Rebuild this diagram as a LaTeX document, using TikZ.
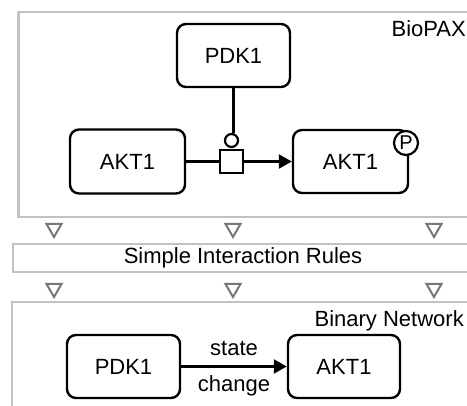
\documentclass[tikz,border=0pt]{standalone}
\usepackage{fontspec}
\setmainfont{Liberation Sans}
\usetikzlibrary{arrows.meta}
\definecolor{panelgray}{HTML}{C2C2C2}
\definecolor{trigray}{HTML}{777777}
\begin{document}
\begin{tikzpicture}[x=1pt,y=-1pt,
  every node/.style={font=\fontsize{22}{26}\selectfont},
  panel/.style={draw=panelgray,line width=2.6pt},
  entity/.style={draw=black,line width=2.4pt,rounded corners=9pt,inner sep=0pt},
  conn/.style={draw=black,line width=2.4pt},
  tip/.style={-{Triangle[length=13pt,width=14pt]}},
  flowtri/.style={draw=trigray,line width=2pt,line join=miter}
]
\useasboundingbox (0,0) rectangle (467,406);
\clip (0,0) rectangle (467,406);
\fill[white] (0,0) rectangle (467,406);

% panels
\draw[panel] (480,12) -- (18.5,12) -- (18.5,217) -- (480,217);
\draw[panel] (480,244) -- (13,244) -- (13,272) -- (480,272);
\draw[panel] (480,302) -- (12,302) -- (12,420);

\node[anchor=base east,inner sep=0pt] (lblbiopax) at (466,37) {BioPAX};
\node[inner sep=0pt] (lblrules) at (243,258) {Simple Interaction Rules};
\node[anchor=base east,inner sep=0pt] (lblbinary) at (464,327) {Binary Network};

% flow triangles
\foreach \cx in {54,233,434}{
  \draw[flowtri] (\cx-7.5,224) -- (\cx+7.5,224) -- (\cx,237) -- cycle;
  \draw[flowtri] (\cx-7.5,284) -- (\cx+7.5,284) -- (\cx,297) -- cycle;
}

% BioPAX panel
\node[entity,minimum width=113pt,minimum height=63pt] (pdk) at (233.5,55.5) {PDK1};
\node[entity,minimum width=115pt,minimum height=64pt] (aktl) at (127.5,161.5) {AKT1};
\node[entity,minimum width=115pt,minimum height=63pt] (aktr) at (350.5,161.5) {AKT1};
\node[draw=black,line width=2.2pt,fill=white,circle,minimum size=24pt,inner sep=0pt,font=\fontsize{20}{22}\selectfont] (phos) at (406,143) {P};
\node[draw=black,line width=2.4pt,fill=white,minimum size=23pt,inner sep=0pt] (proc) at (231.5,161.5) {};
\node[draw=black,line width=2.2pt,fill=white,circle,minimum size=13pt,inner sep=0pt] (cat) at (231.5,140.5) {};

\draw[conn] (pdk.south) -- (pdk.south |- cat.north);
\draw[conn] (aktl.east) -- (proc.west);
\draw[conn,tip] (proc.east) -- (aktr.west);

% Binary network
\node[entity,minimum width=113pt,minimum height=63pt] (pdkb) at (123.5,366.5) {PDK1};
\node[entity,minimum width=112pt,minimum height=63pt] (aktb) at (344,366.5) {AKT1};
\draw[conn,tip] (pdkb.east) -- node[above=10pt,inner sep=0pt] (lstate) {state} node[below=8pt,inner sep=0pt] (lchange) {change} (aktb.west);
\end{tikzpicture}
\end{document}
